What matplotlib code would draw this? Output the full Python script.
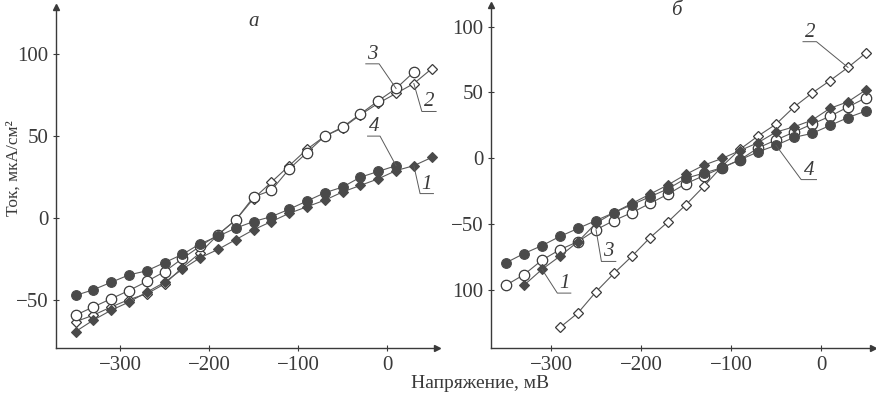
import matplotlib.pyplot as plt

plt.rcParams['font.family'] = ['Liberation Serif', 'DejaVu Serif']

################### DATA ###################

# voltage grid, mV (20 mV step)
volt = [-350, -330, -310, -290, -270, -250, -230, -210, -190, -170, -150,
        -130, -110, -90, -70, -50, -30, -10, 10, 30, 50]

# panel а
a1 = [-69, -62, -56, -51, -45, -39, -31, -24, -19, -13, -7, -2, 3, 7, 11,
      16, 20, 24, 29, 32, 37]
a2 = [-63, -59, -54, -49.5, -46, -40, -30, -21, -10, -1, 12, 22, 32, 42, 50,
      55, 63, 70, 76, 82, 91]
a3 = [-59, -54, -49, -44, -38.5, -32.5, -24.5, -17, -10, -1, 13, 17, 30, 40,
      50, 55.5, 63.5, 71.5, 79, 89]
a4 = [-47, -43.5, -39, -34.5, -32, -27, -22, -15.5, -11, -6, -2, 1, 5.5,
      10.5, 15.5, 19, 25, 28.5, 32]

# panel б
b1 = [-96, -84, -74, -63, -49, -41, -34, -27, -20, -12, -5, 0, 6, 12, 20,
      24, 29, 38, 43, 52]
b2 = [-128, -117, -101, -87, -74, -60, -48, -35, -21, -6, 7, 17, 26, 39,
      49.5, 59, 69, 80]
b3 = [-96, -88, -77, -69, -63, -54, -47, -41, -34, -27, -19, -13, -7, -1, 8,
      14, 20, 26, 32, 39, 46]
b4 = [-79, -72, -66, -59, -53, -47, -41, -35, -29, -23, -15, -11, -7, -1, 5,
      10, 16, 19, 25, 31, 36]

xticks = [-300, -200, -100, 0]
xtick_labels = ['\u2212300', '\u2212200', '\u2212100', '0']
yticks_a = [-50, 0, 50, 100]
ytick_labels_a = ['\u221250', '0', '50', '100']
yticks_b = [-100, -50, 0, 50, 100]
ytick_labels_b = ['100', '\u221250', '0', '50', '100']

################### STYLE ###################

INK = '#3a3a3a'
LINE = '#5a5a5a'
FILL = '#4a4a4a'

open_circle = dict(marker='o', ms=7.5, mfc='white', mec=INK, mew=0.9)
fill_circle = dict(marker='o', ms=7.0, mfc=FILL, mec=FILL, mew=0.8)
open_diam = dict(marker='D', ms=5.0, mfc='white', mec=INK, mew=0.9)
fill_diam = dict(marker='D', ms=5.0, mfc=FILL, mec=FILL, mew=0.8)

fig = plt.figure(figsize=(8.76, 3.99), dpi=100)
fig.patch.set_facecolor('white')


def px_axes(left, right, top, bottom):
    W, H = 876.0, 399.0
    return fig.add_axes([left / W, 1 - bottom / H, (right - left) / W, (bottom - top) / H])


def style_axes(ax, yticks, ylabels):
    for s in ['top', 'right']:
        ax.spines[s].set_visible(False)
    for s in ['left', 'bottom']:
        ax.spines[s].set_color(INK)
        ax.spines[s].set_linewidth(1.0)
    ax.set_xticks(xticks)
    ax.set_xticklabels(xtick_labels)
    ax.set_yticks(yticks)
    ax.set_yticklabels(ylabels)
    ax.tick_params(direction='inout', length=5, width=0.8, colors=INK,
                   labelsize=15, pad=3)
    ax.tick_params(axis='x', pad=3)
    ax.set_facecolor('none')
    # arrow heads at the ends of both axes
    ax.plot(1, 0, '>', color=INK, ms=4, transform=ax.transAxes, clip_on=False)
    ax.plot(0, 1, '^', color=INK, ms=4, transform=ax.transAxes, clip_on=False)


def curve(ax, x, y, st):
    ax.plot(x, y, color=LINE, lw=0.8, clip_on=False, **st)


def tag(ax, text, ty, ux0, ux1, px, py):
    # numeral over a short underline, leader to the data point
    ax.plot([ux0, ux1, px], [ty, ty, py], color=LINE, lw=0.7, clip_on=False)
    ax.text((ux0 + ux1) / 2, ty, text,
            ha='center', va='bottom', fontsize=15, style='italic', color=INK)


################### PANEL а ###################

ax = px_axes(56, 437, 7, 348)
ax.set_xlim(-372, 56)
ax.set_ylim(-79, 128.6)
style_axes(ax, yticks_a, ytick_labels_a)

curve(ax, volt[:len(a2)], a2, open_diam)
curve(ax, volt[:len(a3)], a3, open_circle)
curve(ax, volt[:len(a1)], a1, fill_diam)
curve(ax, volt[:len(a4)], a4, fill_circle)

tag(ax, '3', 94, -24, -9, volt[18], a3[18])
tag(ax, '2', 65, 55, 39, volt[19], a2[19])
tag(ax, '4', 50, -22, -8, volt[18], a4[18])
tag(ax, '1', 15, 52, 37, volt[19], a1[19])
ax.text(-150, 120, 'а', ha='center', va='center', fontsize=15, style='italic', color=INK)

################### PANEL б ###################

bx = px_axes(491, 873, 5, 348)
bx.set_xlim(-366.7, 57.8)
bx.set_ylim(-143.6, 116.3)
style_axes(bx, yticks_b, ytick_labels_b)

curve(bx, volt[3:3 + len(b2)], b2, open_diam)
curve(bx, volt[:len(b3)], b3, open_circle)
curve(bx, volt[1:1 + len(b1)], b1, fill_diam)
curve(bx, volt[:len(b4)], b4, fill_circle)

tag(bx, '2', 88.5, -20, -5, volt[19], b2[16])
tag(bx, '4', -16, -5, -22, volt[15], b4[15])
tag(bx, '3', -78, -228, -244, volt[5], b3[5])
tag(bx, '1', -102, -278, -293, volt[2], b1[1])
bx.text(-161, 112, 'б', ha='center', va='center', fontsize=15, style='italic', color=INK)

################### AXIS TITLES ###################

fig.text(14 / 876, 1 - 168 / 399, 'Ток, мкА/см²', rotation=90, ha='center', va='center',
         fontsize=12.5, color=INK)
fig.text(480 / 876, 1 - 383 / 399, 'Напряжение, мВ', ha='center', va='center',
         fontsize=14, color=INK)

fig.savefig('out.png', dpi=100, facecolor='white')
